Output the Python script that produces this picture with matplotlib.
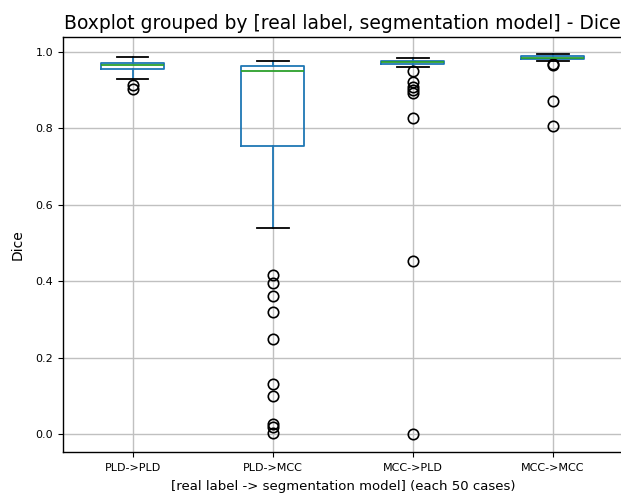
import matplotlib
matplotlib.use("Agg")
import matplotlib.pyplot as plt

groups = ["PLD->PLD", "PLD->MCC", "MCC->PLD", "MCC->MCC"]
q1 = [0.955, 0.753, 0.969, 0.981]
med = [0.966, 0.951, 0.973, 0.985]
q3 = [0.970, 0.963, 0.977, 0.990]
whislo = [0.930, 0.538, 0.960, 0.977]
whishi = [0.987, 0.975, 0.983, 0.994]
fliers = [
    [0.914, 0.903],
    [0.416, 0.396, 0.361, 0.320, 0.249, 0.131, 0.101, 0.026, 0.019, 0.002],
    [0.951, 0.922, 0.909, 0.901, 0.892, 0.826, 0.453, 0.0],
    [0.969, 0.966, 0.872, 0.806],
]

stats = []
for i in range(len(groups)):
    stats.append({"label": groups[i], "q1": q1[i], "med": med[i], "q3": q3[i],
                  "whislo": whislo[i], "whishi": whishi[i], "fliers": fliers[i]})

fig = plt.figure(figsize=(6.21, 4.98), dpi=100)
ax = fig.add_axes([0.101, 0.092, 0.902, 0.834])

lw = 1.3
ax.bxp(stats,
       boxprops=dict(color="C0", linewidth=lw),
       whiskerprops=dict(color="C0", linewidth=lw),
       medianprops=dict(color="C2", linewidth=lw),
       capprops=dict(color="k", linewidth=lw),
       flierprops=dict(marker="o", markersize=7.5, markerfacecolor="none",
                       markeredgecolor="k", markeredgewidth=1.2))

ax.grid(True, color="#c0c0c0", linewidth=1.0)
ax.set_axisbelow(True)
for s in ax.spines.values():
    s.set_linewidth(1.0)
ax.set_title("Boxplot grouped by [real label, segmentation model] - Dice", fontsize=13.5)
ax.set_xlabel("[real label -> segmentation model] (each 50 cases)", fontsize=9.5, labelpad=5)
ax.set_ylabel("Dice", fontsize=10, labelpad=8)
ax.tick_params(axis="x", labelsize=8, pad=4.5)
ax.tick_params(axis="y", labelsize=8)
ax.set_ylim(-0.047, 1.039)

fig.savefig("out.png", dpi=100)
